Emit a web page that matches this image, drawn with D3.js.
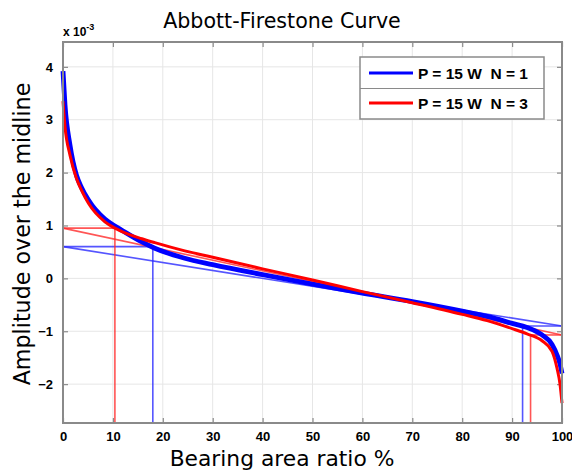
<!DOCTYPE html>
<html><head><meta charset="utf-8">
<script src="https://cdn.jsdelivr.net/npm/d3@7"></script>
<style>body{margin:0;background:#fff}svg{display:block}</style>
</head><body>
<svg id="c" width="572" height="472"></svg>
<script>
// ---- data ----
const ratio = [0, 0.4, 1.4, 2.7, 3.7, 5.1, 8.4, 10.4, 11.8, 15.8, 18.4, 24.4, 30, 40, 50, 60, 70, 80, 85, 90, 93, 96, 98, 99, 99.6, 100];
const ampN1 = [3.92, 3.28, 2.52, 1.95, 1.72, 1.48, 1.12, 0.99, 0.91, 0.69, 0.57, 0.38, 0.26, 0.07, -0.11, -0.28, -0.44, -0.62, -0.72, -0.85, -0.93, -1.07, -1.25, -1.45, -1.62, -1.8];
const ampN3 = [3.35, 2.87, 2.33, 1.89, 1.67, 1.42, 1.07, 0.95, 0.885, 0.75, 0.675, 0.52, 0.4, 0.18, -0.03, -0.25, -0.46, -0.68, -0.8, -0.95, -1.05, -1.18, -1.38, -1.7, -2.0, -2.36];
// Rk construction: [Mr1, level at Mr1, Mr2, level at Mr2]
const rkN1 = [18.0, 0.6, 92.1, -0.9];
const rkN3 = [10.4, 0.95, 93.7, -1.07];
const seriesNames = ["P = 15 W  N = 1", "P = 15 W  N = 3"];
const xTicks = [0, 10, 20, 30, 40, 50, 60, 70, 80, 90, 100];
const yTicks = [-2, -1, 0, 1, 2, 3, 4];

// ---- layout ----
const L = 63, R = 562, T = 42, B = 423;
const svg = d3.select("#c");
const x = d3.scaleLinear().domain([0, 100]).range([L, R]);
const y = d3.scaleLinear().domain([-2.735, 4.47]).range([B, T]);
const gray = "#8a8a8a";
const blue = "#0000ff", red = "#ff0000";

// grid
svg.append("g").selectAll("line").data(xTicks.slice(1, -1)).join("line")
  .attr("x1", d => x(d)).attr("x2", d => x(d)).attr("y1", T).attr("y2", B)
  .attr("stroke", "#e6e6e6").attr("stroke-width", 1);
svg.append("g").selectAll("line").data(yTicks).join("line")
  .attr("x1", L).attr("x2", R).attr("y1", d => y(d)).attr("y2", d => y(d))
  .attr("stroke", "#e6e6e6").attr("stroke-width", 1);

// axes with inner ticks
const fmt = d3.format("d");
function styleAxis(g) {
  g.select(".domain").remove();
  g.selectAll(".tick line").attr("stroke", gray).attr("stroke-width", 1.2);
  g.selectAll(".tick text").attr("font-family", "Liberation Sans, Arial, sans-serif")
    .attr("font-weight", "bold").attr("font-size", 13).attr("fill", "#000");
}
svg.append("g").attr("transform", `translate(0,${B})`)
  .call(d3.axisBottom(x).tickValues(xTicks).tickFormat(fmt).tickSizeInner(-5).tickSizeOuter(0).tickPadding(9))
  .call(styleAxis);
svg.append("g").attr("transform", `translate(0,${T})`)
  .call(d3.axisTop(x).tickValues(xTicks).tickFormat("").tickSizeInner(-5).tickSizeOuter(0))
  .call(styleAxis);
svg.append("g").attr("transform", `translate(${L},0)`)
  .call(d3.axisLeft(y).tickValues(yTicks).tickFormat(fmt).tickSizeInner(-5).tickSizeOuter(0).tickPadding(10))
  .call(styleAxis);
svg.append("g").attr("transform", `translate(${R},0)`)
  .call(d3.axisRight(y).tickValues(yTicks).tickFormat("").tickSizeInner(-5).tickSizeOuter(0))
  .call(styleAxis);

// Rk construction lines
function rkLines(rk, color) {
  const [m1, l1, m2, l2] = rk;
  const segs = [
    [[0, l1], [m1, l1]],
    [[m1, l1], [m1, y.domain()[0]]],
    [[0, l1], [100, l2]],
    [[m2, l2], [100, l2]],
    [[m2, l2], [m2, y.domain()[0]]]
  ];
  svg.append("g").selectAll("line").data(segs).join("line")
    .attr("x1", d => x(d[0][0])).attr("y1", d => y(d[0][1]))
    .attr("x2", d => x(d[1][0])).attr("y2", d => y(d[1][1]))
    .attr("stroke", color).attr("stroke-width", 1.6).attr("opacity", 0.8);
}
rkLines(rkN1, "#2b2bff");
rkLines(rkN3, "#ff2b2b");

// curves
const line = d3.line().x((d, i) => x(ratio[i])).y(d => y(d)).curve(d3.curveMonotoneX);
svg.append("path").datum(ampN1).attr("d", line).attr("fill", "none")
  .attr("stroke", blue).attr("stroke-width", 4.8);
svg.append("path").datum(ampN3).attr("d", line).attr("fill", "none")
  .attr("stroke", red).attr("stroke-width", 3);

// box
svg.append("rect").attr("x", L).attr("y", T).attr("width", R - L).attr("height", B - T)
  .attr("fill", "none").attr("stroke", gray).attr("stroke-width", 2);

// legend
const lg = svg.append("g");
lg.append("rect").attr("x", 360).attr("y", 57).attr("width", 184).attr("height", 62)
  .attr("fill", "#fff").attr("stroke", gray).attr("stroke-width", 1.5);
lg.append("line").attr("x1", 360).attr("x2", 544).attr("y1", 88.5).attr("y2", 88.5)
  .attr("stroke", gray).attr("stroke-width", 1.2);
[[seriesNames[0], blue], [seriesNames[1], red]].forEach((s, i) => {
  const yy = 73 + i * 30;
  lg.append("line").attr("x1", 369).attr("x2", 413).attr("y1", yy).attr("y2", yy)
    .attr("stroke", s[1]).attr("stroke-width", 3);
  lg.append("text").attr("x", 418).attr("y", yy + 5.5).text(s[0])
    .attr("font-family", "Liberation Sans, Arial, sans-serif").attr("font-weight", "bold")
    .attr("font-size", 15.5).attr("fill", "#000").style("white-space", "pre");
});

// titles
svg.append("text").attr("x", 282).attr("y", 28).attr("text-anchor", "middle")
  .attr("font-family", "DejaVu Sans, sans-serif").attr("font-size", 20.6).text("Abbott-Firestone Curve");
svg.append("text").attr("x", 282).attr("y", 465.5).attr("text-anchor", "middle")
  .attr("font-family", "DejaVu Sans, sans-serif").attr("font-size", 21.8).text("Bearing area ratio %");
svg.append("text").attr("transform", "translate(30,234) rotate(-90)").attr("text-anchor", "middle")
  .attr("font-family", "DejaVu Sans, sans-serif").attr("font-size", 22.2).text("Amplitude over the midline");
const ex = svg.append("text").attr("x", 63).attr("y", 36)
  .attr("font-family", "Liberation Sans, Arial, sans-serif").attr("font-weight", "bold").attr("font-size", 12);
ex.append("tspan").text("x 10");
ex.append("tspan").attr("dy", -6).attr("font-size", 9).text("-3");
</script>
</body></html>
